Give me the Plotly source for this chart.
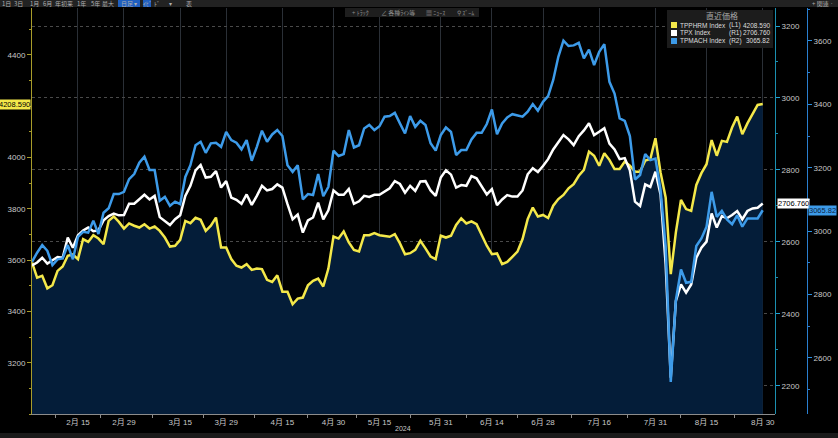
import plotly.graph_objects as go

# ---- data (trading-day index 0 = 2024-02-01 ... 143 = 2024-08-30) ----
tick_index = [9, 18, 29, 38, 49, 59, 68, 80, 90, 100, 111, 122, 132, 143]
tick_labels = ["2月 15", "2月 29", "3月 15", "3月 29", "4月 15", "4月 30", "5月 15",
               "5月 31", "6月 14", "6月 28", "7月 16", "7月 31", "8月 15", "8月 30"]
minor_index = [4.5, 13.5, 23.5, 33.5, 43.5, 54, 63.5, 74, 85, 95, 105.5, 116.5, 127, 137.5]
left_ticks = [3200, 3400, 3600, 3800, 4000, 4400]

tpphrm = [3591, 3532, 3539, 3490, 3502, 3558, 3575, 3617, 3622, 3604,
          3682, 3671, 3697, 3684, 3662, 3753, 3770, 3749, 3723, 3743,
          3734, 3727, 3740, 3723, 3731, 3714, 3688, 3653, 3656, 3679,
          3753, 3744, 3765, 3757, 3714, 3734, 3766, 3649, 3649, 3604,
          3578, 3571, 3584, 3562, 3567, 3565, 3523, 3515, 3541, 3477,
          3477, 3428, 3450, 3454, 3502, 3519, 3528, 3497, 3567, 3692,
          3684, 3712, 3669, 3640, 3634, 3697, 3697, 3705, 3697, 3695,
          3691, 3701, 3665, 3623, 3627, 3640, 3675, 3646, 3614, 3604,
          3695, 3688, 3695, 3737, 3763, 3743, 3751, 3740, 3695, 3656,
          3623, 3626, 3584, 3593, 3613, 3633, 3682, 3760, 3805, 3770,
          3776, 3764, 3812, 3838, 3854, 3880, 3896, 3929, 3952, 4023,
          4007, 3968, 4017, 3991, 3955, 3955, 3984, 3968, 3945, 3945,
          3988, 3994, 4075, 3942, 3844, 3545, 3708, 3835, 3799, 3792,
          3893, 3939, 3974, 4068, 4007, 4065, 4061, 4117, 4160, 4091,
          4133, 4169, 4205, 4208.59]

tpx = [2535, 2543, 2556, 2540, 2549, 2558, 2556, 2612, 2584, 2619,
       2632, 2640, 2630, 2632, 2660, 2672, 2679, 2674, 2675, 2706,
       2706, 2718, 2731, 2718, 2728, 2669, 2658, 2647, 2663, 2674,
       2728, 2756, 2799, 2814, 2779, 2781, 2797, 2751, 2769, 2723,
       2717, 2706, 2732, 2703, 2728, 2756, 2743, 2747, 2760, 2751,
       2705, 2663, 2676, 2626, 2660, 2668, 2709, 2663, 2688, 2743,
       2731, 2731, 2747, 2706, 2713, 2728, 2725, 2731, 2731, 2739,
       2749, 2769, 2761, 2737, 2756, 2742, 2768, 2769, 2743, 2728,
       2779, 2799, 2787, 2751, 2758, 2756, 2783, 2777, 2756, 2732,
       2747, 2702, 2718, 2730, 2726, 2726, 2743, 2788, 2805, 2794,
       2811, 2830, 2857, 2876, 2897, 2885, 2869, 2894, 2910, 2930,
       2897, 2906, 2916, 2873, 2857, 2830, 2833, 2799, 2712, 2700,
       2760, 2753, 2795, 2732, 2538, 2223, 2436, 2482, 2459, 2482,
       2556, 2584, 2601, 2679, 2640, 2672, 2666, 2675, 2686, 2663,
       2686, 2693, 2695, 2706.76]

tpmach = [2903, 2932, 2956, 2938, 2893, 2911, 2914, 2956, 2911, 2982,
          2998, 2995, 3033, 2991, 3058, 3072, 3117, 3117, 3124, 3164,
          3180, 3216, 3235, 3193, 3193, 3096, 3108, 3080, 3093, 3085,
          3171, 3208, 3271, 3282, 3247, 3277, 3279, 3266, 3313, 3287,
          3279, 3258, 3287, 3222, 3266, 3317, 3282, 3305, 3319, 3300,
          3208, 3187, 3208, 3100, 3117, 3114, 3180, 3110, 3140, 3254,
          3237, 3243, 3319, 3264, 3271, 3324, 3335, 3319, 3331, 3361,
          3363, 3373, 3340, 3308, 3363, 3329, 3348, 3335, 3277, 3254,
          3303, 3327, 3313, 3240, 3256, 3256, 3289, 3310, 3310, 3338,
          3384, 3306, 3340, 3359, 3369, 3366, 3361, 3377, 3401, 3380,
          3408, 3426, 3477, 3550, 3601, 3584, 3586, 3594, 3545, 3573,
          3524, 3566, 3590, 3471, 3434, 3356, 3348, 3300, 3163, 3177,
          3243, 3224, 3229, 3129, 2951, 2524, 2782, 2879, 2837, 2840,
          2953, 2977, 3014, 3124, 3045, 3064, 3037, 3022, 3050, 3014,
          3040, 3040, 3040, 3065.82]

series_names = ["TPPHRM Index", "TPX Index", "TPMACH Index"]
series_tags = ["(L1)", "(R1)", "(R2)"]
last_text = ["4208.590", "2706.760", "3065.82"]
colors = ["#f4e84a", "#ffffff", "#3d9be9"]

idx = list(range(len(tpphrm)))

# ---- geometry helpers (pixel -> paper) ----
W, H = 838, 438
L, R, T, B = 32, 31, 8, 24
PW, PH = W - L - R, H - T - B
def px(x):
    return (x - L) / PW
def py(y):
    return (H - B - y) / PH

x_end = px(775)

fig = go.Figure()
fig.add_trace(go.Scatter(x=idx, y=tpphrm, yaxis="y", mode="lines", fill="tozeroy",
                         fillcolor="#041d39", line=dict(color=colors[0], width=2.5),
                         hoverinfo="skip", showlegend=False))
fig.add_trace(go.Scatter(x=idx, y=tpx, yaxis="y2", mode="lines",
                         line=dict(color=colors[1], width=2.5), hoverinfo="skip", showlegend=False))
fig.add_trace(go.Scatter(x=idx, y=tpmach, yaxis="y3", mode="lines",
                         line=dict(color=colors[2], width=2.5), hoverinfo="skip", showlegend=False))

tickfont = dict(family="Liberation Sans, Noto Sans CJK JP", size=8, color="#c8c8c8")

fig.update_layout(
    width=W, height=H, margin=dict(l=L, r=R, t=T, b=B, autoexpand=False),
    paper_bgcolor="#000000", plot_bgcolor="#000000",
    showlegend=False,
    xaxis=dict(domain=[0, x_end], range=[0, 145.4], tickmode="array", automargin=False,
               tickvals=tick_index, ticktext=tick_labels, ticks="outside", ticklen=0,
               ticklabelstandoff=0,
               showgrid=True, gridcolor="#2a2f36", gridwidth=1, zeroline=False,
               showline=True, linecolor="#8c8c8c", linewidth=1, tickfont=tickfont,
               minor=dict(tickmode="array", tickvals=minor_index, ticks="outside",
                          ticklen=3, tickcolor="#8c8c8c", showgrid=False)),
    yaxis=dict(range=[3000, 4583], tickmode="array", tickvals=left_ticks, side="left",
               showgrid=False, zeroline=False, automargin=False,
               showline=True, linecolor="#a89c2a", linewidth=1, ticks="outside",
               ticklen=4, tickcolor="#a89c2a", tickfont=tickfont,
               minor=dict(dtick=100, tick0=3000, ticks="outside", ticklen=2,
                          tickcolor="#a89c2a")),
    yaxis2=dict(range=[2122, 3250], dtick=200, overlaying="y", anchor="free",
                position=x_end, side="right", showgrid=True, griddash="dot", automargin=False,
                gridcolor="#4a4a4a", gridwidth=1, zeroline=False, showline=True,
                linecolor="#1b8fb0", linewidth=1, ticks="outside", ticklen=4,
                tickcolor="#1fa4d6", tickfont=tickfont,
                minor=dict(dtick=100, ticks="outside", ticklen=2, tickcolor="#1b8fb0")),
    yaxis3=dict(range=[2423, 3704], dtick=200, overlaying="y", anchor="free",
                position=1, side="right", showgrid=False, zeroline=False, showline=True,
                automargin=False,
                linecolor="#2a7fd0", linewidth=1, ticks="outside", ticklen=4,
                tickcolor="#2a8fe0", tickfont=tickfont,
                minor=dict(dtick=100, ticks="outside", ticklen=2, tickcolor="#2a7fd0")),
)

shapes = []
ann = []

def label(text, x, y, size=7, color="#c8c8c8", family="Liberation Sans", xanchor="center"):
    ann.append(dict(x=px(x), y=py(y), xref="paper", yref="paper", text=text,
                    xanchor=xanchor, yanchor="middle", showarrow=False, borderpad=0,
                    font=dict(family=family, size=size, color=color)))

# last-value tags
tagfont = dict(family="Liberation Sans", size=7.5, color="#000000")
ann.append(dict(x=0, xref="paper", xanchor="right", xshift=-1, y=tpphrm[-1], yref="y",
                yanchor="middle", text=last_text[0], showarrow=False, bgcolor=colors[0],
                borderpad=0, font=tagfont))
ann.append(dict(x=x_end, xref="paper", xanchor="left", xshift=2, y=tpx[-1], yref="y2",
                yanchor="middle", text=last_text[1], showarrow=False, bgcolor="#ffffff",
                borderpad=0, font=tagfont))
ann.append(dict(x=1, xref="paper", xanchor="left", xshift=1, y=tpmach[-1], yref="y3",
                yanchor="middle", text=last_text[2], showarrow=False, bgcolor=colors[2],
                borderpad=0, font=dict(family="Liberation Sans", size=7.5, color="#0b2545")))

# year label
label("2024", 403, 428, size=7)

# legend box
shapes.append(dict(type="rect", xref="paper", yref="paper", x0=px(667), x1=px(773),
                   y0=py(48), y1=py(10), fillcolor="#1c1c1c", line=dict(width=0), layer="above"))
label("直近価格", 722, 15.5, size=8, color="#a8a8a8", family="Noto Sans CJK JP")
for k, rowy in enumerate([25, 33, 41]):
    shapes.append(dict(type="rect", xref="paper", yref="paper", x0=px(671), x1=px(677),
                       y0=py(rowy + 3), y1=py(rowy - 3), fillcolor=colors[k],
                       line=dict(width=0), layer="above"))
    label(series_names[k], 679, rowy, size=6.5, color="#dcdcdc", xanchor="left")
    label(series_tags[k], 728, rowy, size=6.5, color="#dcdcdc", xanchor="left")
    label(last_text[k], 771, rowy, size=6.5, color="#dcdcdc", xanchor="right")

# top toolbar
shapes.append(dict(type="rect", xref="paper", yref="paper", x0=px(0), x1=px(W),
                   y0=py(7), y1=py(0), fillcolor="#222222", line=dict(width=0), layer="above"))
shapes.append(dict(type="rect", xref="paper", yref="paper", x0=px(118), x1=px(140),
                   y0=py(7), y1=py(0), fillcolor="#1f5fc0", line=dict(width=0), layer="above"))
shapes.append(dict(type="rect", xref="paper", yref="paper", x0=px(143), x1=px(151),
                   y0=py(7), y1=py(0), fillcolor="#1f5fc0", line=dict(width=0), layer="above"))
for text, cx in [("1日", 6), ("3日", 18), ("1月", 34), ("6月", 47), ("年初来", 64), ("1年", 81),
                 ("5年", 95), ("最大", 108), ("日足 ▾", 129), ("ｲﾋﾞ", 147), ("ﾄﾞ", 157),
                 ("▾", 170), ("表", 189), ("+ 関連 ·", 822)]:
    label(text, cx, 3.5, size=6, color="#b0b0b0", family="Noto Sans CJK JP")

# secondary toolbar
shapes.append(dict(type="rect", xref="paper", yref="paper", x0=px(345), x1=px(479),
                   y0=py(17), y1=py(8), fillcolor="#1e1e1e", line=dict(width=0), layer="above"))
for text, cx in [("+ ﾄﾗｯｸ", 360), ("∠ 各種ﾗｲﾝ等", 398), ("▦ ﾆｭｰｽ", 436), ("⚲ ｽﾞｰﾑ", 465)]:
    label(text, cx, 12.5, size=6, color="#8c8c8c", family="Noto Sans CJK JP")

# bottom strip
shapes.append(dict(type="rect", xref="paper", yref="paper", x0=px(0), x1=px(W),
                   y0=py(H), y1=py(433), fillcolor="#1a1a1a", line=dict(width=0), layer="above"))

fig.update_layout(shapes=shapes, annotations=ann)
fig.write_html("out.html", config={"displayModeBar": False},
               post_script="document.body.style.margin='0';document.body.style.overflow='hidden';")
